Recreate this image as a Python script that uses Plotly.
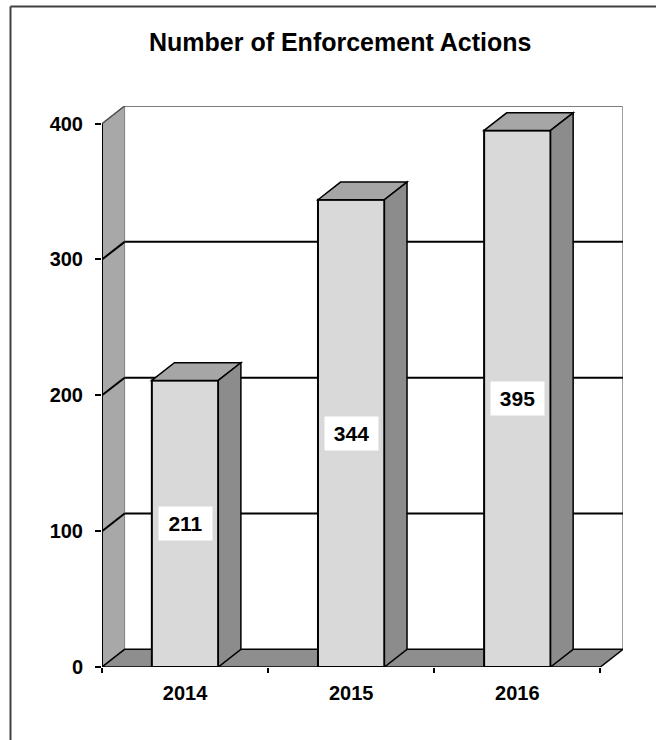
import plotly.graph_objects as go

# ---- data ----
years = ["2014", "2015", "2016"]
actions = [211, 344, 395]
y_ticks = [0, 100, 200, 300, 400]
title_text = "Number of Enforcement Actions"

# ---- geometry / style ----
W, H = 656, 740
L, R, T, B = 102, 33, 106, 73
PW, PH = W - L - R, H - T - B
DXC = 0.136      # depth offset in category units
DY = 13          # depth offset in value units
YMAX = 400
BAR_W = 0.4
FONT = "Liberation Sans, Arial, sans-serif"

FRONT = "#D9D9D9"
TOP = "#A6A6A6"
SIDE = "#8C8C8C"
WALL = "#A8A8A8"
FLOOR = "#8E8E8E"

fig = go.Figure()

fig.add_trace(go.Bar(
    x=years, y=actions, width=BAR_W,
    marker=dict(color=FRONT, line=dict(color="black", width=2)),
    hoverinfo="skip", showlegend=False,
))

shapes = []

def poly(pts, fill, line_color="black", lw=1.5, layer="below"):
    path = "M " + " L ".join(f"{x},{y}" for x, y in pts) + " Z"
    shapes.append(dict(type="path", xref="x", yref="y", path=path,
                       fillcolor=fill, line=dict(color=line_color, width=lw), layer=layer))

def seg(x0, y0, x1, y1, color="black", lw=2, layer="below"):
    shapes.append(dict(type="line", xref="x", yref="y", x0=x0, y0=y0, x1=x1, y1=y1,
                       line=dict(color=color, width=lw), layer=layer))

n = len(years)
xl, xr = -0.5, n - 0.5
# back wall
shapes.append(dict(type="rect", xref="x", yref="y", x0=xl + DXC, x1=xr + DXC, y0=DY, y1=YMAX + DY,
                   fillcolor="white", line=dict(width=0), layer="below"))
seg(xl + DXC, YMAX + DY, xr + DXC, YMAX + DY, color="#505050", lw=1.5)
seg(xr + DXC, DY, xr + DXC, YMAX + DY, color="#A0A0A0", lw=2)
# left wall
poly([(xl, 0), (xl + DXC, DY), (xl + DXC, YMAX + DY), (xl, YMAX)], WALL, line_color="#808080", lw=1)
seg(xl, YMAX, xl + DXC, YMAX + DY, color="#505050", lw=1.5)
# gridlines
for v in y_ticks[1:-1]:
    seg(xl + DXC, v + DY, xr + DXC, v + DY, color="black", lw=2)
    seg(xl, v, xl + DXC, v + DY, color="black", lw=2)
# floor
poly([(xl, 0), (xr, 0), (xr + DXC, DY), (xl + DXC, DY)], FLOOR, line_color="black", lw=1.5)
# front y axis edge
seg(xl, 0, xl, YMAX, color="black", lw=2)

# bar tops and sides
for i, v in enumerate(actions):
    a, b = i - BAR_W / 2, i + BAR_W / 2
    poly([(a, v), (a + DXC, v + DY), (b + DXC, v + DY), (b, v)], TOP, layer="above")
    poly([(b, 0), (b + DXC, DY), (b + DXC, v + DY), (b, v)], SIDE, layer="above")

# outer frame (paper coords)
def px(xp):
    return (xp - L) / PW

def py(yp):
    return (H - B - yp) / PH

shapes.append(dict(type="line", xref="paper", yref="paper", x0=px(10.5), y0=py(6.5), x1=px(W + 2), y1=py(6.5),
                   line=dict(color="#404040", width=2), layer="above"))
shapes.append(dict(type="line", xref="paper", yref="paper", x0=px(10.5), y0=py(6.5), x1=px(10.5), y1=py(H + 2),
                   line=dict(color="#404040", width=2), layer="above"))

annotations = []
for i, v in enumerate(actions):
    annotations.append(dict(
        x=i, y=v / 2, xref="x", yref="y", text=str(v), showarrow=False,
        font=dict(family=FONT, size=21, color="black", weight="bold"),
        bgcolor="white", width=45, height=25, borderpad=4,
    ))
annotations.append(dict(
    x=px(340), y=py(42), xref="paper", yref="paper", text=title_text, showarrow=False,
    xanchor="center", yanchor="middle",
    font=dict(family=FONT, size=25, color="black", weight="bold"),
))

fig.update_layout(
    width=W, height=H,
    margin=dict(l=L, r=R, t=T, b=B),
    paper_bgcolor="white", plot_bgcolor="rgba(0,0,0,0)",
    shapes=shapes, annotations=annotations,
    showlegend=False,
    xaxis=dict(
        type="category", categoryorder="array", categoryarray=years,
        range=[xl, xr + DXC], tickson="boundaries", ticks="outside", ticklen=5,
        tickwidth=1.5, tickcolor="black", showline=False, showgrid=False, zeroline=False,
        tickfont=dict(family=FONT, size=20, color="black", weight="bold"),
        ticklabelstandoff=12, fixedrange=True,
    ),
    yaxis=dict(
        range=[0, YMAX + DY], tickvals=y_ticks, ticks="outside", ticklen=6,
        tickwidth=1.5, tickcolor="black", showline=False, showgrid=False, zeroline=False,
        tickfont=dict(family=FONT, size=20, color="black", weight="bold"),
        ticklabelstandoff=8, fixedrange=True,
    ),
)

fig.write_html("out.html", config={"displayModeBar": False},
               post_script="document.body.style.margin='0';")
